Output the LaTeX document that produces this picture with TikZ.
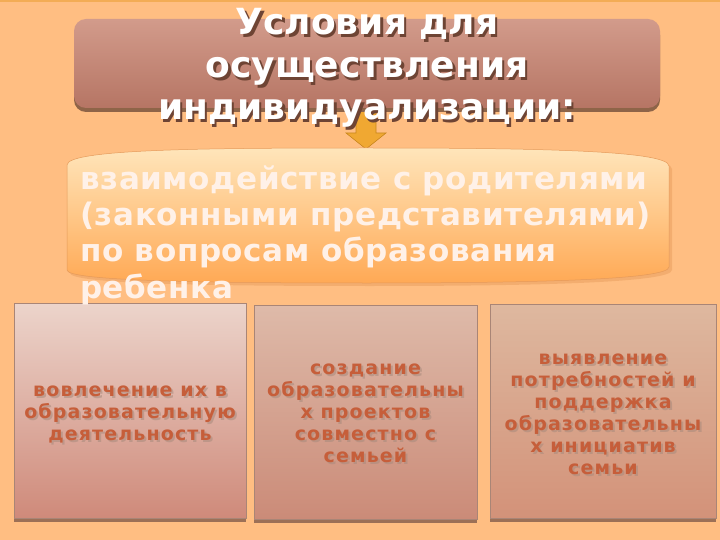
\documentclass[tikz,border=0pt]{standalone}
\usepackage{fontspec}
\setmainfont{DejaVu Sans}
\newfontfamily\titlefont{DejaVu Sans}
\newfontfamily\midfont[LetterSpace=2]{DejaVu Sans}
\newfontfamily\cardfont[LetterSpace=6]{DejaVu Sans}
\definecolor{bgpeach}{HTML}{FFBE82}
\definecolor{topline}{HTML}{F3AC55}
\definecolor{ttltop}{HTML}{D29B8B}
\definecolor{ttlbot}{HTML}{B67564}
\definecolor{ttlshadow}{HTML}{8E6448}
\definecolor{txtshadow}{HTML}{6E4434}
\definecolor{arrowfill}{HTML}{F0A832}
\definecolor{arrowline}{HTML}{C8861E}
\definecolor{midtop}{HTML}{FFE5BA}
\definecolor{midbot}{HTML}{FFA955}
\definecolor{midline}{HTML}{E59A5A}
\definecolor{midtext}{HTML}{FFF1E8}
\definecolor{cardline}{HTML}{A98576}
\definecolor{cardbar}{HTML}{9C7056}
\definecolor{cardtext}{HTML}{C65E3A}
\definecolor{cardshade}{HTML}{A88A7C}
\tikzset{
  cardbox/.style={draw=cardline,line width=.6pt},
  cardlbl/.style={text=cardtext,align=center,anchor=base,
    font=\cardfont\bfseries\fontsize{19}{22}\selectfont},
  cardshd/.style={text=cardshade,opacity=.55,align=center,anchor=base,
    font=\cardfont\bfseries\fontsize{19}{22}\selectfont}
}
\begin{document}
\begin{tikzpicture}[x=1pt,y=-1pt]
\useasboundingbox (0,0) rectangle (720,540);
\fill[bgpeach] (0,0) rectangle (720,540);
\draw[topline,line width=2pt] (0,1.5) -- (720,1.5);
\filldraw[fill=arrowfill,draw=arrowline,line width=.6pt] (356,108) -- (376,108) -- (376,133) -- (386,133) -- (366,149) -- (346,133) -- (356,133) -- cycle;
\fill[ttlshadow,rounded corners=12pt] (74,23) rectangle (660,112);
\shade[top color=ttltop,bottom color=ttlbot,rounded corners=12pt] (74,19) rectangle (660,108);
\fill[midline,opacity=.45] (70,168) .. controls (70,152) and (210,151) .. (370,151) .. controls (530,151) and (672,153) .. (672,169) -- (672,270) .. controls (672,283) and (530,286) .. (370,286) .. controls (210,286) and (70,284) .. (70,273) -- cycle;
\shade[top color=midtop,bottom color=midbot,draw=midline,line width=.5pt] (67,165) .. controls (67,149) and (207,148) .. (367,148) .. controls (527,148) and (669,150) .. (669,166) -- (669,267) .. controls (669,280) and (527,283) .. (367,283) .. controls (207,283) and (67,281) .. (67,270) -- cycle;
\fill[cardbar] (14,515) rectangle (246,522);
\fill[cardbar] (254,516) rectangle (477,523);
\fill[cardbar] (490,515) rectangle (716,522);
\shade[cardbox,top color={rgb,255:red,236;green,212;blue,203},bottom color={rgb,255:red,207;green,138;blue,122}] (14,303) rectangle (246,518);
\shade[cardbox,top color={rgb,255:red,222;green,186;blue,169},bottom color={rgb,255:red,203;green,139;blue,120}] (254,305) rectangle (477,519);
\shade[cardbox,top color={rgb,255:red,222;green,184;blue,159},bottom color={rgb,255:red,211;green,146;blue,121}] (490,304) rectangle (716,518);
\node[text=txtshadow,align=center,anchor=base,font=\titlefont\bfseries\fontsize{36}{42.5}\selectfont] (ttlshd) at (369.5,123) {Условия для\\осуществления\\индивидуализации:};
\node[text=white,align=center,anchor=base,font=\titlefont\bfseries\fontsize{36}{42.5}\selectfont] (ttl) at (367,120) {Условия для\\осуществления\\индивидуализации:};
\node[text=midtext,align=left,anchor=base west,inner sep=0pt,font=\midfont\bfseries\fontsize{31}{36.2}\selectfont] (mid) at (80,298) {взаимодействие с родителями\\(законными представителями)\\по вопросам образования\\ребенка};
\node[cardshd] (c1shd) at (132,442) {вовлечение их в\\образовательную\\деятельность};
\node[cardlbl] (c1) at (130,440) {вовлечение их в\\образовательную\\деятельность};
\node[cardshd] (c2shd) at (367.5,464) {создание\\образовательны\\х проектов\\совместно с\\семьей};
\node[cardlbl] (c2) at (365.5,462) {создание\\образовательны\\х проектов\\совместно с\\семьей};
\node[cardshd] (c3shd) at (605,476) {выявление\\потребностей и\\поддержка\\образовательны\\х инициатив\\семьи};
\node[cardlbl] (c3) at (603,474) {выявление\\потребностей и\\поддержка\\образовательны\\х инициатив\\семьи};
\end{tikzpicture}
\end{document}
